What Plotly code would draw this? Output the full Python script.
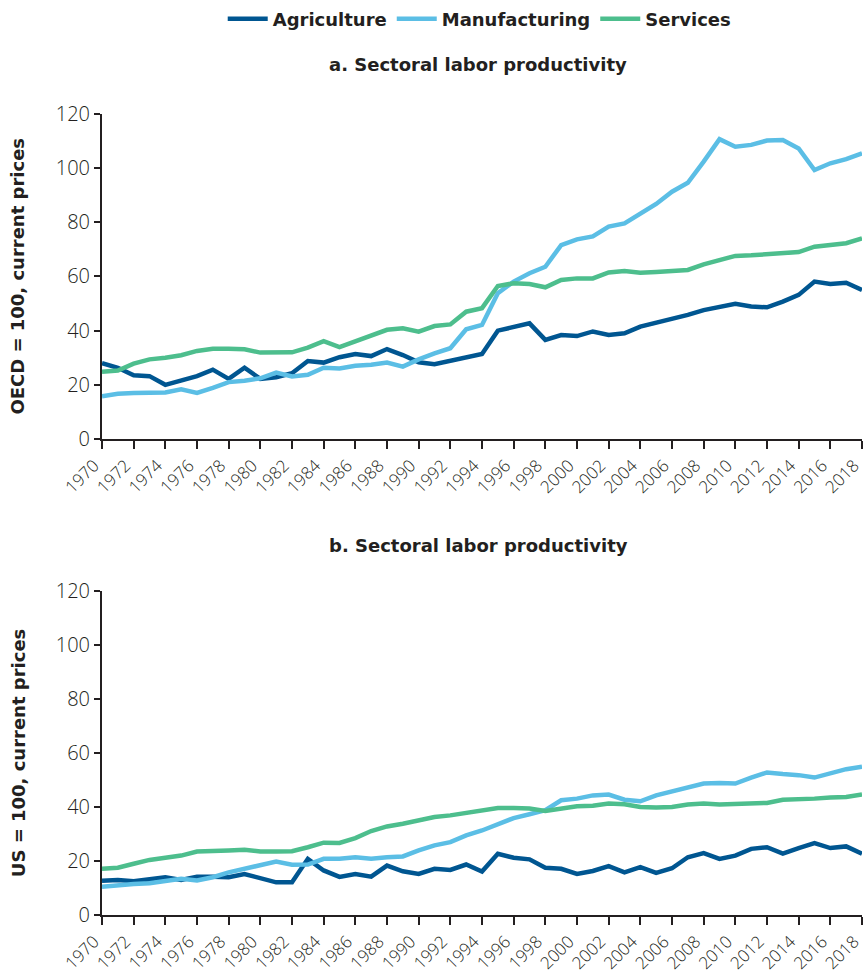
import plotly.graph_objects as go

years = list(range(1970, 2019))
tick_years = list(range(1970, 2019, 2))
tick_labels = [str(y) for y in tick_years]

# Panel a: OECD = 100
oecd_agriculture = [28.0, 26.3, 23.5, 23.2, 20.0, 21.4, 23.2, 25.6, 22.2, 26.3,
                    22.2, 22.8, 24.3, 28.8, 28.2, 30.2, 31.4, 30.6, 33.2, 31.0,
                    28.3, 27.6, 28.8, 30.2, 31.4, 40.0, 41.2, 42.7, 36.6, 38.4,
                    38.0, 39.7, 38.4, 39.0, 41.5, 42.9, 44.6, 45.8, 47.6, 48.9,
                    49.9, 48.9, 48.6, 50.7, 53.2, 58.1, 57.2, 57.7, 55.0]
oecd_manufacturing = [15.8, 16.7, 17.0, 17.0, 17.2, 18.3, 17.0, 18.9, 21.0, 21.5,
                      22.4, 24.5, 23.1, 23.7, 26.3, 26.0, 27.0, 27.4, 28.2, 26.7,
                      29.4, 31.6, 33.5, 40.5, 42.1, 53.8, 58.1, 61.2, 63.6, 71.6,
                      73.7, 74.8, 78.4, 79.6, 83.3, 86.8, 91.3, 94.6, 102.4, 110.7,
                      107.9, 108.6, 110.2, 110.4, 107.3, 99.3, 101.8, 103.3, 105.5]
oecd_services = [24.8, 25.3, 27.8, 29.4, 30.0, 30.9, 32.5, 33.3, 33.3, 33.1,
                 31.9, 31.9, 32.0, 33.7, 36.1, 33.9, 35.9, 38.0, 40.3, 40.9,
                 39.6, 41.7, 42.3, 47.0, 48.3, 56.5, 57.5, 57.2, 56.0, 58.7,
                 59.3, 59.3, 61.5, 62.0, 61.4, 61.7, 62.0, 62.4, 64.5, 66.1,
                 67.6, 67.8, 68.3, 68.9, 69.0, 71.0, 71.6, 72.3, 74.1]

# Panel b: US = 100
us_agriculture = [12.7, 13.0, 12.5, 13.2, 14.0, 13.0, 14.2, 14.2, 14.0, 15.2,
                  13.8, 12.1, 12.1, 20.8, 16.5, 14.1, 15.2, 14.2, 18.3, 16.2,
                  15.2, 17.1, 16.7, 18.7, 16.1, 22.7, 21.2, 20.6, 17.5, 17.1,
                  15.2, 16.3, 18.1, 15.8, 17.7, 15.6, 17.3, 21.4, 22.9, 20.8,
                  22.0, 24.5, 25.1, 22.7, 24.8, 26.6, 24.8, 25.4, 22.7]
us_manufacturing = [10.5, 11.1, 11.5, 11.8, 12.8, 13.4, 12.8, 14.0, 15.8, 17.1,
                    18.3, 19.8, 18.6, 18.7, 20.8, 20.8, 21.4, 20.8, 21.4, 21.7,
                    23.9, 25.8, 27.0, 29.5, 31.3, 33.8, 35.9, 37.3, 38.8, 42.5,
                    43.1, 44.3, 44.6, 42.7, 42.1, 44.3, 45.9, 47.4, 48.7, 48.9,
                    48.7, 50.9, 52.8, 52.2, 51.8, 50.9, 52.6, 54.0, 54.9]
us_services = [17.1, 17.5, 19.0, 20.4, 21.2, 22.0, 23.5, 23.9, 23.9, 24.2,
               23.5, 23.5, 23.6, 25.1, 26.8, 26.7, 28.5, 31.1, 32.8, 33.8,
               35.1, 36.3, 36.9, 37.8, 38.8, 39.6, 39.6, 39.4, 38.5, 39.4,
               40.3, 40.5, 41.3, 41.0, 40.0, 39.8, 40.0, 40.9, 41.3, 40.9,
               41.0, 41.3, 41.5, 42.7, 42.7, 43.1, 43.5, 43.7, 44.6]

series_names = ["Agriculture", "Manufacturing", "Services"]
colors = ["#005691", "#5BBEE5", "#4DBE8D"]

FONT = "Open Sans"
BOLD = "DejaVu Sans"
TXT = "#231F20"

fig = go.Figure()
panel_a = [oecd_agriculture, oecd_manufacturing, oecd_services]
panel_b = [us_agriculture, us_manufacturing, us_services]
for name, col, ya, yb in zip(series_names, colors, panel_a, panel_b):
    fig.add_trace(go.Scatter(x=years, y=ya, name=name, mode="lines",
                             line=dict(color=col, width=4.5),
                             xaxis="x", yaxis="y", legendgroup=name))
    fig.add_trace(go.Scatter(x=years, y=yb, name=name, mode="lines",
                             line=dict(color=col, width=4.5),
                             xaxis="x2", yaxis="y2", legendgroup=name,
                             showlegend=False))

xcommon = dict(range=[1970, 2018], tickmode="array", tickvals=tick_years,
               ticktext=tick_labels, ticklabeloverflow="allow",
               ticklabelshift=-8,
               tickangle=-45, ticks="outside", ticklen=8, tickwidth=1.5,
               tickcolor=TXT, showline=True, linecolor=TXT, linewidth=2,
               showgrid=False, zeroline=False, automargin=False,
               tickfont=dict(family=FONT, size=17, color=TXT, weight=300))
ycommon = dict(range=[0, 120], tickmode="linear", tick0=0, dtick=20,
               ticks="outside", ticklen=6, tickwidth=1.5, tickcolor=TXT,
               showline=True, linecolor=TXT, linewidth=2, showgrid=False,
               zeroline=False, automargin=False,
               tickfont=dict(family=FONT, size=20, color=TXT, weight=300))

fig.update_layout(
    width=865, height=978,
    margin=dict(l=102, r=3, t=114, b=63, autoexpand=False),
    paper_bgcolor="white", plot_bgcolor="white",
    xaxis=dict(**xcommon, anchor="y"),
    yaxis=dict(**ycommon, domain=[0.5943, 1.0], anchor="x"),
    xaxis2=dict(**xcommon, anchor="y2"),
    yaxis2=dict(**ycommon, domain=[0.0, 0.4045], anchor="x2"),
    showlegend=True,
    legend=dict(orientation="h", x=0.497, xanchor="center", y=1.1186,
                yanchor="middle", font=dict(family=BOLD, size=18, color=TXT,
                                            weight="bold"),
                itemwidth=40, tracegroupgap=0, bgcolor="rgba(0,0,0,0)"),
    annotations=[
        dict(text="<b>a. Sectoral labor productivity</b>", x=0.495, y=1.0624,
             xref="paper", yref="paper", xanchor="center", yanchor="middle",
             showarrow=False, font=dict(family=BOLD, size=18, color=TXT)),
        dict(text="<b>b. Sectoral labor productivity</b>", x=0.495, y=0.4607,
             xref="paper", yref="paper", xanchor="center", yanchor="middle",
             showarrow=False, font=dict(family=BOLD, size=18, color=TXT)),
        dict(text="<b>OECD = 100, current prices</b>", x=-0.1105, y=0.797,
             xref="paper", yref="paper", xanchor="center", yanchor="middle",
             textangle=-90, showarrow=False,
             font=dict(family=BOLD, size=18, color=TXT)),
        dict(text="<b>US = 100, current prices</b>", x=-0.1105, y=0.202,
             xref="paper", yref="paper", xanchor="center", yanchor="middle",
             textangle=-90, showarrow=False,
             font=dict(family=BOLD, size=18, color=TXT)),
    ],
)

fig.write_html("out.html",
               config={"displayModeBar": False},
               post_script="document.body.style.margin='0';"
                           "document.body.style.overflow='hidden';")
